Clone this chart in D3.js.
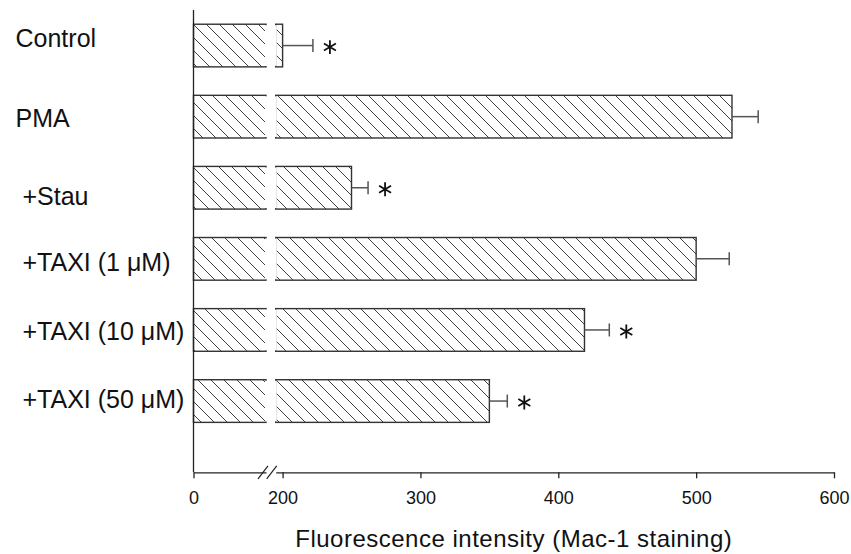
<!DOCTYPE html>
<html>
<head>
<meta charset="utf-8">
<script src="https://cdn.jsdelivr.net/npm/d3@7"></script>
<style>
  body { margin: 0; background: #fff; }
  text { font-family: "Liberation Sans", Arial, sans-serif; fill: #111; }
</style>
</head>
<body>
<div id="chart"></div>
<script>
(function(d3) {
  'use strict';

  // data
  var categories = ['Control', 'PMA', '+Stau', '+TAXI (1 \u03bcM)', '+TAXI (10 \u03bcM)', '+TAXI (50 \u03bcM)'];
  var values = [200, 526, 250, 500, 419, 350];
  var errors = [22, 19, 12, 24, 18, 13];
  var significant = [true, false, true, false, true, true];
  var lowTicks = [0];
  var highTicks = [200, 300, 400, 500, 600];

  // hand-placed label baselines in the original, relative to bar centre
  var labelDy = [1, 10, 17.5, 12, 10, 6.5];

  var width = 851;
  var height = 554;
  var axisY = 472.3;
  var breakLow = 50, breakHigh = 195;

  var svg = d3.select('#chart')
    .append('svg')
    .attr('width', width)
    .attr('height', height);

  var xLow = d3.scaleLinear().domain([0, breakLow]).range([193.5, 266]);
  var xHigh = d3.scaleLinear().domain([breakHigh, 600]).range([275.7, 834]);

  var y = d3.scaleBand()
    .domain(categories)
    .range([10, 436.6])
    .paddingInner(0.4)
    .paddingOuter(0.2);

  // hatch pattern
  var defs = svg.append('defs');
  var pat = defs.append('pattern')
    .attr('id', 'hatch')
    .attr('patternUnits', 'userSpaceOnUse')
    .attr('width', 13)
    .attr('height', 13);
  pat.append('rect').attr('width', 13).attr('height', 13).attr('fill', '#fff');
  pat.append('path')
    .attr('d', 'M-2,-2 L15,15 M-2,11 L2,15 M11,-2 L15,2')
    .attr('stroke', '#2a2a2a')
    .attr('stroke-width', 0.9);

  var rows = categories.map(function(c, i) {
    return { label: c, value: values[i], err: errors[i], sig: significant[i], dy: labelDy[i] };
  });

  var bars = svg.selectAll('g.bar')
    .data(rows)
    .enter()
    .append('g')
    .attr('class', 'bar');

  // low segment (0 .. break)
  bars.append('rect')
    .attr('x', xLow(0))
    .attr('y', function(d) { return y(d.label); })
    .attr('width', xLow(breakLow) - xLow(0))
    .attr('height', y.bandwidth())
    .attr('fill', 'url(#hatch)')
    .attr('stroke', '#333')
    .attr('stroke-width', 1.4);

  // high segment (break .. value)
  bars.append('rect')
    .attr('x', xHigh(breakHigh))
    .attr('y', function(d) { return y(d.label); })
    .attr('width', function(d) { return xHigh(d.value) - xHigh(breakHigh); })
    .attr('height', y.bandwidth())
    .attr('fill', 'url(#hatch)')
    .attr('stroke', '#333')
    .attr('stroke-width', 1.4);

  // open the outline at the break
  [xLow(breakLow), xHigh(breakHigh)].forEach(function(bx) {
    bars.append('line')
      .attr('x1', bx)
      .attr('x2', bx)
      .attr('y1', function(d) { return y(d.label) + 1; })
      .attr('y2', function(d) { return y(d.label) + y.bandwidth() - 1; })
      .attr('stroke', '#fff')
      .attr('stroke-width', 2);
  });

  // error bars
  var cy = function(d) { return y(d.label) + y.bandwidth() / 2; };
  bars.append('line')
    .attr('x1', function(d) { return xHigh(d.value); })
    .attr('x2', function(d) { return xHigh(d.value + d.err); })
    .attr('y1', cy)
    .attr('y2', cy)
    .attr('stroke', '#555')
    .attr('stroke-width', 1.5);
  bars.append('line')
    .attr('x1', function(d) { return xHigh(d.value + d.err); })
    .attr('x2', function(d) { return xHigh(d.value + d.err); })
    .attr('y1', function(d) { return cy(d) - 6.5; })
    .attr('y2', function(d) { return cy(d) + 6.5; })
    .attr('stroke', '#555')
    .attr('stroke-width', 1.5);

  // significance asterisks
  var star = d3.symbol().type(d3.symbolAsterisk).size(135);
  bars.filter(function(d) { return d.sig; })
    .append('path')
    .attr('d', star)
    .attr('transform', function(d) {
      return 'translate(' + (xHigh(d.value + d.err) + 17) + ',' + (cy(d) + 1.5) + ')';
    })
    .attr('fill', 'none')
    .attr('stroke', '#111')
    .attr('stroke-width', 1.8);

  // category labels
  svg.selectAll('text.cat')
    .data(rows)
    .enter()
    .append('text')
    .attr('class', 'cat')
    .attr('x', function(d) { return d.label.charAt(0) === '+' ? 22.5 : 15.5; })
    .attr('y', function(d) { return cy(d) + d.dy; })
    .style('font-size', '25px')
    .text(function(d) { return d.label; });

  // y axis line
  svg.append('line')
    .attr('x1', xLow(0)).attr('x2', xLow(0))
    .attr('y1', 10).attr('y2', axisY)
    .attr('stroke', '#222')
    .attr('stroke-width', 1.3);

  // x axes, two pieces either side of the break
  function styleAxis(g) {
    g.select('.domain').attr('stroke', '#222').attr('stroke-width', 1.3);
    g.selectAll('.tick line').attr('stroke', '#222').attr('stroke-width', 1.3);
    g.selectAll('.tick text')
      .style('font-size', '18px')
      .style('font-family', '"Liberation Sans", Arial, sans-serif')
      .attr('fill', '#111');
  }

  svg.append('g')
    .attr('transform', 'translate(0,' + axisY + ')')
    .call(d3.axisBottom(xLow).tickValues(lowTicks).tickSize(6).tickSizeOuter(0).tickPadding(13))
    .call(styleAxis);

  svg.append('g')
    .attr('transform', 'translate(0,' + axisY + ')')
    .call(d3.axisBottom(xHigh).tickValues(highTicks).tickSize(6).tickSizeOuter(0).tickPadding(13))
    .call(styleAxis);

  // break marks
  svg.selectAll('line.brk')
    .data([xLow(breakLow) - 3, xHigh(breakHigh) - 4])
    .enter()
    .append('line')
    .attr('class', 'brk')
    .attr('x1', function(d) { return d - 5; })
    .attr('x2', function(d) { return d + 5; })
    .attr('y1', axisY + 6.5)
    .attr('y2', axisY - 6.5)
    .attr('stroke', '#222')
    .attr('stroke-width', 1.2);

  // x title
  svg.append('text')
    .attr('x', (xLow(0) + xHigh(600)) / 2)
    .attr('y', 546.5)
    .attr('text-anchor', 'middle')
    .style('font-size', '24px')
    .style('letter-spacing', '0.5px')
    .text('Fluorescence intensity (Mac-1 staining)');
})(window.d3);
</script>
</body>
</html>
